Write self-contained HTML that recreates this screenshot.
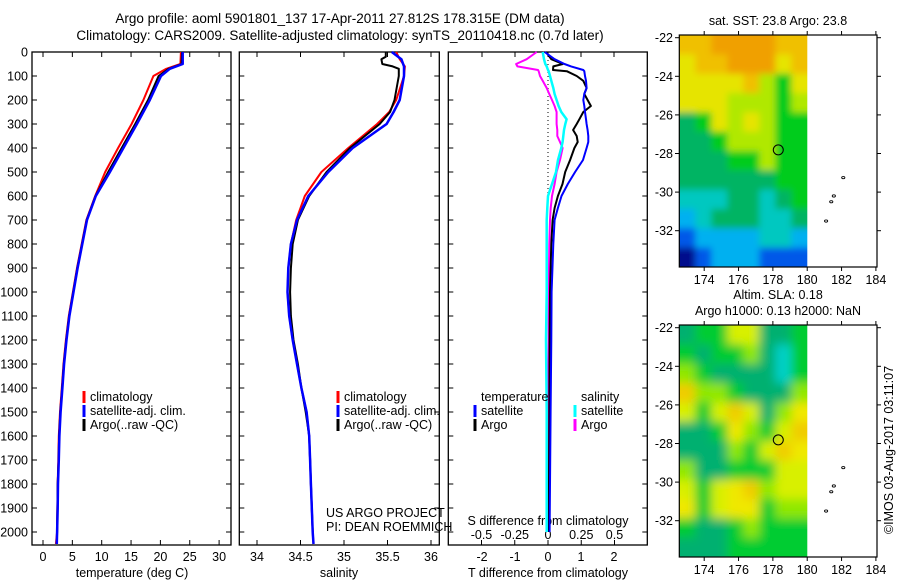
<!DOCTYPE html>
<html><head><meta charset="utf-8">
<style>
html,body{margin:0;padding:0;background:#fff;}
svg{display:block;font-family:"Liberation Sans",sans-serif;}
text{fill:#000;}
</style></head>
<body>
<svg id="fig" width="900" height="580" viewBox="0 0 900 580" xmlns="http://www.w3.org/2000/svg">
<defs>
<clipPath id="clipSla"><rect x="679.3" y="325" width="128" height="232"/></clipPath>
<clipPath id="clipSst"><rect x="679.3" y="35" width="128" height="232"/></clipPath>
<filter id="blur" x="-10%" y="-10%" width="120%" height="120%"><feGaussianBlur stdDeviation="5"/></filter>
<filter id="blur2" x="-10%" y="-10%" width="120%" height="120%"><feGaussianBlur stdDeviation="3.5"/></filter>
</defs>
<text x="340" y="23" font-size="13.5" text-anchor="middle">Argo profile: aoml 5901801_137 17-Apr-2011 27.812S 178.315E (DM data)</text>
<text x="340" y="40" font-size="13.5" text-anchor="middle">Climatology: CARS2009. Satellite-adjusted climatology: synTS_20110418.nc (0.7d later)</text>
<g id="g"></g>
</svg>
<script>
// ---------- data ----------
const depthT = [0,50,70,100,200,300,400,500,600,700,800,900,1000,1100,1200,1300,1400,1500,1600,1700,1800,1900,2000,2050];
const tempClim = [23.5,23.4,21.0,18.8,17.1,15.1,12.8,10.6,8.9,7.4,6.6,5.8,5.1,4.4,3.9,3.5,3.2,2.9,2.7,2.6,2.5,2.45,2.4,2.2];
const tempSat  = [23.8,23.8,21.6,20.1,18.2,16.0,13.7,11.4,9.0,7.5,6.7,5.9,5.2,4.5,4.0,3.6,3.3,3.0,2.8,2.7,2.55,2.5,2.4,2.35];
const tempArgo = [23.7,23.6,21.4,19.7,17.9,15.7,13.4,11.1,8.95,7.45,6.65,5.85,5.15,4.45,3.95,3.55,3.25,2.95,2.75,2.65,2.5,2.45,2.4,2.35];
const depthS = [0,30,60,100,200,250,300,400,500,600,700,800,900,1000,1100,1200,1300,1400,1500,1600,1700,1800,1900,2000,2050];
const salClim = [35.6,35.64,35.7,35.69,35.6,35.52,35.38,35.05,34.74,34.55,34.45,34.39,34.36,34.35,34.37,34.41,34.46,34.51,34.57,34.6,34.61,34.62,34.63,34.64,34.65];
const salSat  = [35.55,35.66,35.69,35.69,35.64,35.57,35.49,35.1,34.82,34.59,34.46,34.39,34.36,34.35,34.37,34.41,34.46,34.51,34.57,34.6,34.61,34.62,34.63,34.64,34.65];
const argoSD  = [0,20,30,50,60,70,100,200,250,300,400,500,600,700,800,900,1000,1100,1200,1300,1400,1500,1600,1700,1800,1900,2000];
const salArgo = [35.48,35.48,35.43,35.44,35.56,35.63,35.63,35.58,35.53,35.41,35.07,34.8,34.6,34.47,34.41,34.39,34.38,34.39,34.42,34.47,34.51,34.56,34.6,34.61,34.62,34.63,34.64];
const depthD = [0,30,50,60,75,80,100,120,150,175,200,225,250,280,300,325,350,375,400,450,500,550,600,650,700,800,1000,1200,1500,1800,2000];
const dTSat  = [-0.1,0.2,0.5,0.7,1.07,1.1,1.12,1.15,1.17,1.1,1.07,1.1,1.12,1.15,1.17,1.2,1.22,1.22,1.17,1.06,0.82,0.6,0.41,0.3,0.2,0.16,0.11,0.1,0.08,0.06,0.05];
const dTArgo = [-0.06,0.1,0.45,0.16,0.15,0.57,0.87,1.07,1.17,1.1,1.2,1.3,1.07,0.95,0.87,0.76,0.87,0.9,0.8,0.67,0.52,0.44,0.3,0.2,0.14,0.1,0.06,0.05,0.04,0.03,0.03];
const dSSat  = [-0.04,-0.03,-0.02,-0.01,0.0,0.005,0.015,0.025,0.04,0.05,0.065,0.08,0.1,0.14,0.13,0.12,0.115,0.11,0.1,0.075,0.06,0.03,0.0,-0.005,-0.01,-0.01,-0.01,-0.015,-0.01,-0.01,-0.01];
const dSArgo = [-0.085,-0.16,-0.24,-0.23,-0.075,-0.07,-0.06,-0.04,-0.01,0.01,0.03,0.05,0.065,0.065,0.065,0.07,0.07,0.09,0.11,0.09,0.065,0.05,0.03,0.02,0.015,0.01,0.005,0.005,0.0,0.0,0.0];
const depthTicks = [0,100,200,300,400,500,600,700,800,900,1000,1100,1200,1300,1400,1500,1600,1700,1800,1900,2000];
const tempTicks = [0,5,10,15,20,25,30];
const salTicks = ["34","34.5","35","35.5","36"];
const dTTicks = ["-2","-1","0","1","2"];
const dSTicks = ["-0.5","-0.25","0","0.25","0.5"];
const sstGrid = [
"88999988","78899978","77778657","77766656","45767655","44566655",
"44455655","44444455","33344345","23444334","12222332","01222111"];
const slaGrid = [
"12244112","21223102","32111102","63321113","42464135","11253246",
"11132465","31122244","42456344","52455233","21123222","11122222"];
const sstLon = [174,176,178,180,182,184];
const latTicks = [-22,-24,-26,-28,-30,-32];
const islands = [[182.1,-29.25],[181.55,-30.2],[181.4,-30.5],[181.1,-31.5]];
const floatPos = [178.315,-27.812];

// ---------- helpers ----------
const NS="http://www.w3.org/2000/svg";
const G=document.getElementById('g');
function mk(tag,attrs,parent){const e=document.createElementNS(NS,tag);for(const k in attrs)e.setAttribute(k,attrs[k]);(parent||G).appendChild(e);return e;}
function txt(x,y,s,size,anchor,parent){const e=mk('text',{x:x,y:y,'font-size':size||12.5,'text-anchor':anchor||'start'},parent);e.textContent=s;return e;}
const Y0=52, PY=0.24, BOT=545;
const yD=d=>Y0+d*PY;
const xT=t=>43+t*5.87;
const xS=s=>257+(s-34)*87;
const xDT=t=>548+t*33;
const xDS=s=>548+s*133;

function panel(x0,x1,name,leftLabels){
  const r=mk('rect',{x:x0,y:Y0,width:x1-x0,height:BOT-Y0,fill:'none',stroke:'#000','stroke-width':1.3});
  
  
  depthTicks.forEach(d=>{
    const y=yD(d);
    mk('line',{x1:x0,x2:x0+5,y1:y,y2:y,stroke:'#000'});
    mk('line',{x1:x1-5,x2:x1,y1:y,y2:y,stroke:'#000'});
    if(leftLabels){const t=txt(28,y+4.5,String(d),12.5,'end');
      
      }
  });
}
function xticks(vals,fx,labY,top){
  vals.forEach(v=>{const x=fx(+v);
    mk('line',{x1:x,x2:x,y1:BOT,y2:BOT-5,stroke:'#000'});
    if(top)mk('line',{x1:x,x2:x,y1:Y0,y2:Y0+5,stroke:'#000'});
    const t=txt(x,labY,String(v),12.5,'middle');
    
    
  });
}
function line(xs,ds,fx,color,w,name){
  const pts=xs.map((v,i)=>fx(v).toFixed(1)+','+yD(ds[i]).toFixed(1)).join(' ');
  const p=mk('polyline',{points:pts,fill:'none',stroke:color,'stroke-width':w,'stroke-linejoin':'round'});
  
  
}
function legend(x,y,color,label){
  mk('rect',{x:x-1.5,y:y-10,width:3,height:12,fill:color});
  const t=txt(x+6,y,label,12.5);
  
  
}

// ---------- panel 1: temperature ----------
panel(32,231,'temperature-panel',true);
xticks(tempTicks,xT,561,true);
txt(132,577,'temperature (deg C)',12.5,'middle');
line(tempClim,depthT,xT,'#ff0000',2,'temp-climatology-line');
line(tempArgo,depthT,xT,'#000000',2,'temp-argo-line');
line(tempSat,depthT,xT,'#0000ff',2.5,'temp-satellite-line');
legend(84,401,'#ff0000','climatology');
legend(84,415,'#0000ff','satellite-adj. clim.');
legend(84,429,'#000000','Argo(..raw -QC)');

// ---------- panel 2: salinity ----------
panel(239.3,439.3,'salinity-panel',false);
xticks(salTicks,xS,561,true);
txt(339,577,'salinity',12.5,'middle');
line(salClim,depthS,xS,'#ff0000',2,'sal-climatology-line');
line(salArgo,argoSD,xS,'#000000',2,'sal-argo-line');
line(salSat,depthS,xS,'#0000ff',2.5,'sal-satellite-line');
legend(338,401,'#ff0000','climatology');
legend(338,415,'#0000ff','satellite-adj. clim.');
legend(338,429,'#000000','Argo(..raw -QC)');
txt(326,517,'US ARGO PROJECT',12.5);
txt(326,531,'PI: DEAN ROEMMICH',12.5);

// ---------- panel 3: differences ----------
panel(448.3,647.3,'difference-panel',false);
dTTicks.forEach(v=>{const x=xDT(+v);mk('line',{x1:x,x2:x,y1:Y0,y2:Y0+5,stroke:'#000'});
  const t=txt(x,561,v,12.5,'middle');});
dSTicks.forEach(v=>{const x=xDS(+v);mk('line',{x1:x,x2:x,y1:BOT,y2:BOT-5,stroke:'#000'});
  const t=txt(x,539,v,12.5,'middle');});
txt(548,525,'S difference from climatology',12.5,'middle');
txt(548,577,'T difference from climatology',12.5,'middle');
mk('line',{x1:548,x2:548,y1:Y0,y2:yD(620),stroke:'#000','stroke-dasharray':'1,3'});
line(dSArgo,depthD,xDS,'#ff00ff',2,'s-diff-argo-line');
line(dSSat,depthD,xDS,'#00ffff',2.5,'s-diff-satellite-line');
line(dTArgo,depthD,xDT,'#000000',2,'t-diff-argo-line');
line(dTSat,depthD,xDT,'#0000ff',2,'t-diff-satellite-line');
txt(481,401,'temperature',12.5);
legend(475,415,'#0000ff','satellite');
legend(475,429,'#000000','Argo');
txt(581,401,'salinity',12.5);
legend(575,415,'#00ffff','satellite');
legend(575,429,'#ff00ff','Argo');

// ---------- maps ----------
const sstCols=['#00108c','#0058e8','#00b0f0','#00c8c0','#00b464','#00cc1c','#b0e800','#e6e400','#f0c000','#f0a000'];
const slaCols=['#00d0c8','#00b070','#00cc30','#90e800','#d8f000','#f0e800','#f0cc00'];
const LON0=172.55, LONW=17.17, LATPX=19.3;
const xLon=l=>679.3+(l-LON0)*LONW;
function mapPanel(top,grid,cols,blurId,name){
  const yLat=l=>top+2.7+(-22-l)*LATPX;
  const g=mk('g',{'clip-path':top>100?'url(#clipSla)':'url(#clipSst)'});
  
  
  const inner=mk('g',{filter:'url(#'+blurId+')'},g);
  const nr=grid.length,nc=grid[0].length;
  const cw=128/nc, ch=232/nr;
  grid.forEach((row,r)=>{for(let c=0;c<nc;c++){
    const v=+row[c];
    const pad=14;
    const x=679.3+c*cw-(c==0?pad:0), y=top+r*ch-(r==0?pad:0);
    const w=cw+0.6+(c==0?pad:0)+(c==nc-1?pad:0), h=ch+0.6+(r==0?pad:0)+(r==nr-1?pad:0);
    mk('rect',{x:x,y:y,width:w,height:h,fill:cols[v]},inner);
  }});
  const fr=mk('rect',{x:679.3,y:top,width:197.7,height:232,fill:'none',stroke:'#000','stroke-width':1.2});
  
  
  latTicks.forEach(l=>{const y=yLat(l);
    mk('line',{x1:679.3,x2:675,y1:y,y2:y,stroke:'#000'});
    mk('line',{x1:877,x2:881,y1:y,y2:y,stroke:'#000'});
    txt(673,y+4.5,String(l),12.5,'end');});
  sstLon.forEach(l=>{const x=xLon(l);
    mk('line',{x1:x,x2:x,y1:top+232,y2:top+236,stroke:'#000'});
    mk('line',{x1:x,x2:x,y1:top,y2:top-4,stroke:'#000'});
    txt(x,top+249,String(l),12.5,'middle');});
  const c=mk('circle',{cx:xLon(floatPos[0]),cy:yLat(floatPos[1]),r:5,fill:'none',stroke:'#000','stroke-width':1});
  
  
  islands.forEach(p=>{mk('ellipse',{cx:xLon(p[0]),cy:yLat(p[1]),rx:1.6,ry:1.1,fill:'none',stroke:'#000','stroke-width':0.9});});
  return yLat;
}
mapPanel(35,sstGrid,sstCols,'blur2','sst-map');
txt(778,25,'sat. SST: 23.8 Argo: 23.8',12.5,'middle');
mapPanel(325,slaGrid,slaCols,'blur','sla-map');
txt(778,299,'Altim. SLA: 0.18',12.5,'middle');
txt(778,315,'Argo h1000: 0.13 h2000: NaN',12.5,'middle');
const im=txt(0,0,'©IMOS 03-Aug-2017 03:11:07',12.5,'middle');
im.setAttribute('transform','translate(893,450) rotate(-90)');


</script>
</body></html>
